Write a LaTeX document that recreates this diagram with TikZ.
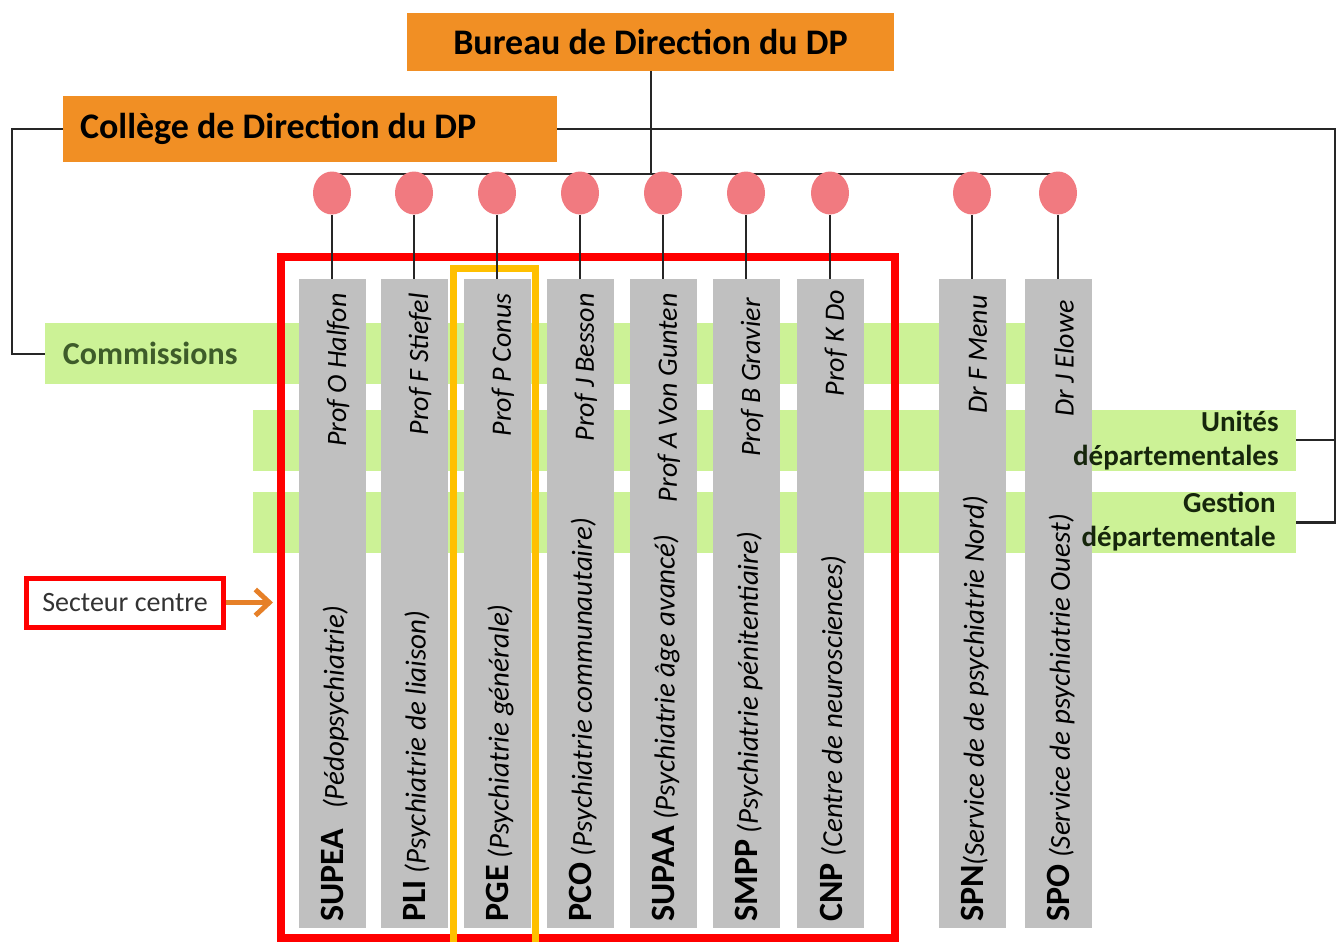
\documentclass[tikz,border=0pt]{standalone}
\usepackage{fontspec}
\setmainfont{Carlito}
\usetikzlibrary{arrows.meta,shapes.geometric,backgrounds}

\definecolor{dirorange}{RGB}{241,143,36}
\definecolor{bandgreen}{RGB}{204,242,150}
\definecolor{colgray}{RGB}{192,192,192}
\definecolor{dotpink}{RGB}{241,122,128}
\definecolor{pgeyellow}{RGB}{255,192,0}
\definecolor{arrorange}{RGB}{230,128,40}
\definecolor{comgreen}{RGB}{62,92,42}
\definecolor{bandtext}{RGB}{22,38,12}

\tikzset{
	dirbox/.style={fill=dirorange,inner sep=0pt,font=\fontsize{18}{20}\selectfont\bfseries},
	band/.style={fill=bandgreen,inner sep=0pt,minimum height=30.5pt},
	bandlabel/.style={anchor=east,inner sep=0pt,align=right,text=bandtext,font=\fontsize{14.5}{17}\selectfont\bfseries},
	unitcol/.style={fill=colgray,minimum width=33.5pt,minimum height=324.5pt,inner sep=0pt},
	pastille/.style={ellipse,fill=dotpink,minimum width=19pt,minimum height=21.5pt,inner sep=0pt},
	chef/.style={rotate=90,anchor=east,inner sep=0pt,font=\fontsize{14}{14}\selectfont\itshape},
	service/.style={rotate=90,anchor=west,inner sep=0pt},
	link/.style={line width=1pt,black!85}
}
\newcommand{\serv}[2]{{\fontsize{17}{17}\selectfont\bfseries #1}{\fontsize{14.5}{14.5}\selectfont\itshape #2}}

\begin{document}
\begin{tikzpicture}[x=0.5pt,y=-0.5pt]
			\useasboundingbox (0,0) rectangle (1344,942);
			% direction
			\draw (650.5,42) node [dirbox,minimum width=243.5pt,minimum height=29pt] (bureau) {Bureau de Direction du DP};
			\draw (310,129) node [dirbox,minimum width=247pt,minimum height=33pt] (college) {\makebox[230pt][l]{Collège de Direction du DP}};
			% bandes vertes
			\draw (45,353.5) node [band,anchor=west,minimum width=502.5pt,text=comgreen,font=\fontsize{16}{18}\selectfont\bfseries] (commissions) {\makebox[485pt][l]{Commissions}};
			\draw (1296,440) node [band,anchor=east,minimum width=521.5pt] (unites) {};
			\draw (1296,522.5) node [band,anchor=east,minimum width=521.5pt] (gestion) {};
			% services
			\draw (332,603.5) node [unitcol] (c1) {};
			\draw (414,603.5) node [unitcol] (c2) {};
			\draw (497,603.5) node [unitcol] (c3) {};
			\draw (580,603.5) node [unitcol] (c4) {};
			\draw (663,603.5) node [unitcol] (c5) {};
			\draw (746,603.5) node [unitcol] (c6) {};
			\draw (830,603.5) node [unitcol] (c7) {};
			\draw (972,603.5) node [unitcol] (c8) {};
			\draw (1058,603.5) node [unitcol] (c9) {};
			\draw (1279,441) node [bandlabel] (lunites) {Unités\\départementales};
			\draw (1276,522) node [bandlabel] (lgestion) {Gestion\\départementale};
			\draw (338,293) node [chef] (p1) {Prof O Halfon};
			\draw (420,293) node [chef] (p2) {Prof F Stiefel};
			\draw (503,293) node [chef] (p3) {Prof P Conus};
			\draw (586,293) node [chef] (p4) {Prof J Besson};
			\draw (669,293) node [chef] (p5) {Prof A Von Gunten};
			\draw (752,298) node [chef] (p6) {Prof B Gravier};
			\draw (836,290) node [chef] (p7) {Prof K Do};
			\draw (978,295) node [chef] (p8) {Dr F Menu};
			\draw (1064,300) node [chef] (p9) {Dr J Elowe};
			\draw (335,922) node [service] (s1) {\serv{SUPEA}{\ \ \ (Pédopsychiatrie)}};
			\draw (417,922) node [service] (s2) {\serv{PLI}{ (Psychiatrie de liaison)}};
			\draw (500,922) node [service] (s3) {\serv{PGE}{ (Psychiatrie générale)}};
			\draw (583,922) node [service] (s4) {\serv{PCO}{ (Psychiatrie communautaire)}};
			\draw (666,922) node [service] (s5) {\serv{SUPAA}{ (Psychiatrie âge avancé)}};
			\draw (749,922) node [service] (s6) {\serv{SMPP}{ (Psychiatrie pénitentiaire)}};
			\draw (833,922) node [service] (s7) {\serv{CNP}{ (Centre de neurosciences)}};
			\draw (975,922) node [service] (s8) {\serv{SPN}{(Service de de psychiatrie Nord)}};
			\draw (1061,922) node [service] (s9) {\serv{SPO}{ (Service de psychiatrie Ouest)}};
			% secteur centre
			\draw (588,597.5) node [draw=red,line width=4pt,minimum width=307pt,minimum height=340.5pt,inner sep=0pt] (centre) {};
			\draw (494,608) node [draw=pgeyellow,line width=3.5pt,minimum width=41pt,minimum height=340pt,inner sep=0pt] (pge) {};
			\draw (125,602.5) node [draw=red,line width=2.5pt,minimum width=98.5pt,minimum height=24.5pt,text=black!80,font=\fontsize{14}{16}\selectfont] (secteur) {Secteur centre};
			\draw [arrorange,line width=2.5pt,-{Straight Barb[length=7pt,width=13pt]},shorten >=2pt] (secteur.east) -- (secteur.east -| centre.west);
			% pastilles
			\draw (332,193) node [pastille] (d1) {};
			\draw (414,193) node [pastille] (d2) {};
			\draw (497,193) node [pastille] (d3) {};
			\draw (580,193) node [pastille] (d4) {};
			\draw (663,193) node [pastille] (d5) {};
			\draw (746,193) node [pastille] (d6) {};
			\draw (830,193) node [pastille] (d7) {};
			\draw (972,193) node [pastille] (d8) {};
			\draw (1058,193) node [pastille] (d9) {};
			\coordinate (coinD) at (1335,129);
			\coordinate (coinG) at (12,129);
			\begin{scope}[on background layer]
				\draw [link] ([yshift=-1.5pt]d1.north) -- ([yshift=-1.5pt]d9.north);
				\draw [link] (bureau.south) -- ++(0,104);
			\end{scope}
			\draw [link,line width=1.2pt] (college.east) -- (coinD) |- (gestion.east);
			\draw [link,line width=1.2pt] (coinD |- unites.east) -- (unites.east);
			\draw [link] (college.west) -- (coinG) |- (commissions.west);
			\path [link]
				(d1) edge (c1) (d2) edge (c2) (d3) edge (c3)
				(d4) edge (c4) (d5) edge (c5) (d6) edge (c6)
				(d7) edge (c7) (d8) edge (c8) (d9) edge (c9);
		\end{tikzpicture}
\end{document}
